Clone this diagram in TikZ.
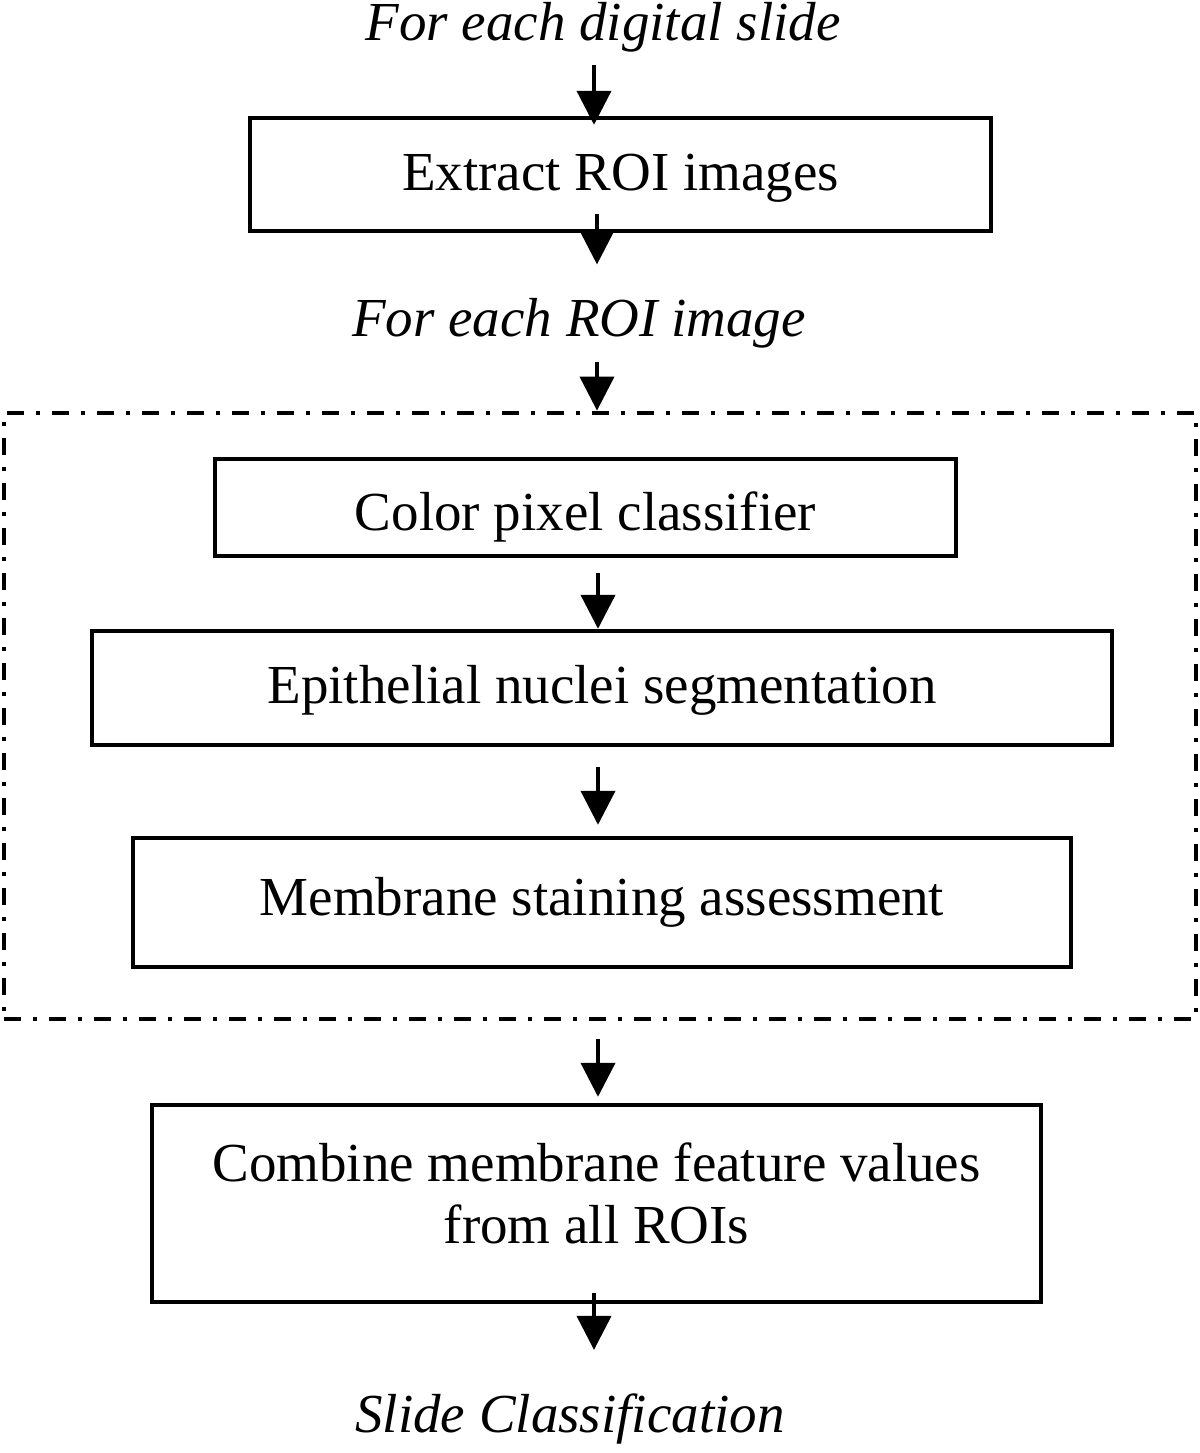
\documentclass[tikz,border=0pt]{standalone}
\usepackage{fontspec}
\setmainfont{Liberation Serif}
\usetikzlibrary{arrows.meta}

\begin{document}
\begin{tikzpicture}[x=0.5pt,y=-0.5pt]
				\tikzstyle{pbox}=[draw, line width=2.2pt, inner sep=0pt, text height=0.69em, text depth=0.22em]
				\tikzstyle{ptitle}=[inner sep=0pt, anchor=base, font=\itshape]
				\tikzstyle{roiframe}=[draw, line width=2.4pt, dash pattern=on 8.5pt off 6pt on 2pt off 6pt]
				\tikzstyle{flow}=[line width=2pt, -{Triangle[width=17pt,length=17pt]}]
				\useasboundingbox (0,0) rectangle (1200,1453);
				\fontsize{27.5}{31}\selectfont
				\node[ptitle] (slide) at (603,40) {For each digital slide};
				\node[pbox, minimum width=370.5pt, minimum height=56.5pt, text height=0.8em] (extract) at (620.5,174.5) {Extract ROI images};
				\node[ptitle] (roi) at (579,336) {For each ROI image};
				\node[roiframe, minimum width=596pt, minimum height=303pt, inner sep=0pt] (loop) at (600,716) {};
				\node[pbox, minimum width=370.5pt, minimum height=48.5pt, text height=1.04em] (color) at (585.5,507.5) {Color pixel classifier};
				\node[pbox, minimum width=510pt, minimum height=57pt, text height=0.8em] (nuclei) at (602,688) {Epithelial nuclei segmentation};
				\node[pbox, minimum width=469pt, minimum height=64.5pt] (membrane) at (602,902.5) {Membrane staining assessment};
				\node[pbox, minimum width=444.5pt, minimum height=98.5pt, align=center, text height=, text depth=0.36em] (combine) at (596.5,1203.5) {Combine membrane feature values\\from all ROIs};
				\node[ptitle] (classify) at (570,1432) {Slide Classification};
				% arrows
				\draw[flow] ([xshift=-4.5pt,yshift=-6.5pt]slide.south) -- ([xshift=-13.25pt,yshift=-4.5pt]extract.north);
				\draw[flow] ([xshift=-11.75pt,yshift=9.5pt]extract.south) -- ([xshift=9pt,yshift=16.5pt]roi.north);
				\draw[flow] ([xshift=9pt,yshift=-7pt]roi.south) -- ([xshift=-1.5pt]loop.north);
				\draw[flow] ([xshift=6.25pt,yshift=-7.5pt]color.south) -- ([xshift=-2pt]nuclei.north);
				\draw[flow] ([xshift=-2pt,yshift=-10pt]nuclei.south) -- ([xshift=-2pt,yshift=5.5pt]membrane.north);
				\draw[flow] ([xshift=-1pt,yshift=-9pt]loop.south) -- ([xshift=0.75pt,yshift=3pt]combine.north);
				\draw[flow] ([xshift=-1.25pt,yshift=5.5pt]combine.south) -- ([xshift=12pt,yshift=21.5pt]classify.north);
			\end{tikzpicture}
\end{document}
